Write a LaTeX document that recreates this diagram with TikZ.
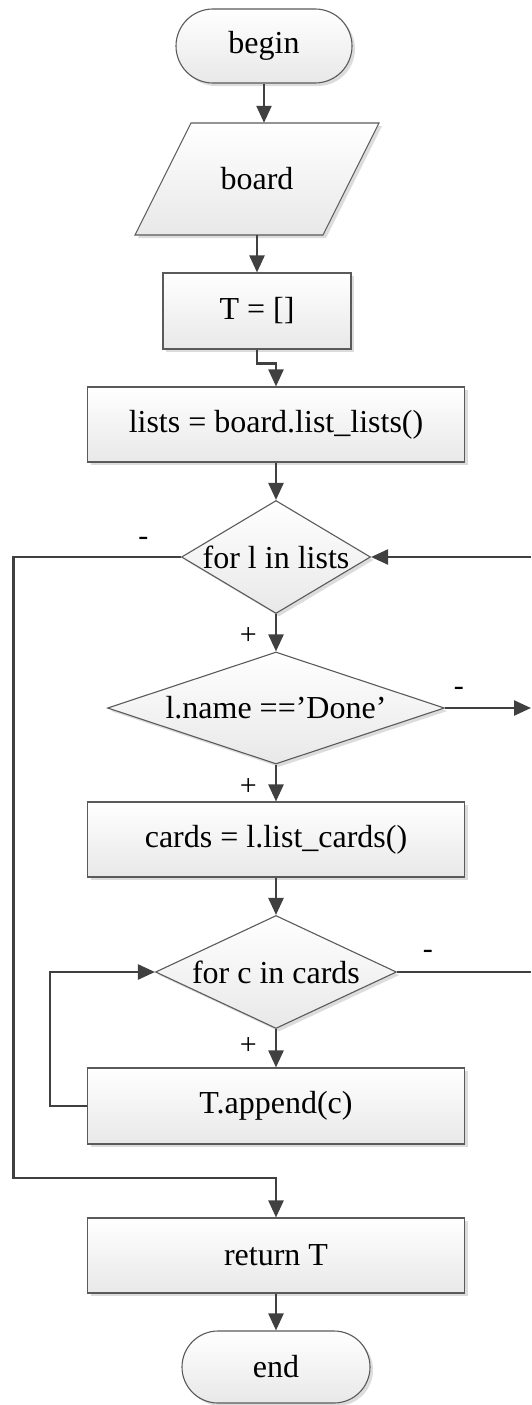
\documentclass[tikz,border=0pt]{standalone}
\usepackage{fontspec}
\setmainfont{Liberation Serif}
\usetikzlibrary{shapes.geometric,shapes.misc,arrows.meta,shadows}
\definecolor{conncol}{HTML}{404040}
\definecolor{edgecol}{HTML}{5A5A5A}
\tikzset{
  base/.style={draw=edgecol, line width=1.1pt, top color=white, bottom color=black!9,
    drop shadow={shadow xshift=3pt, shadow yshift=-3pt, fill=black!30, opacity=0.45},
    font=\fontsize{32pt}{38pt}\selectfont, inner sep=0pt},
  term/.style={base, rounded rectangle},
  proc/.style={base, rectangle, minimum height=75pt},
  decision/.style={base, diamond},
  plain/.style={inner sep=0pt, font=\fontsize{32pt}{38pt}\selectfont},
  conn/.style={draw=conncol, line width=2.4pt, -{Triangle[length=17pt,width=15pt]}},
  wire/.style={draw=conncol, line width=2.4pt},
  sign/.style={font=\fontsize{30pt}{36pt}\selectfont, inner sep=0pt}
}
\begin{document}
\begin{tikzpicture}[x=1pt,y=-1pt]
\useasboundingbox (0,0) rectangle (531,1405);
% shapes
\node[term, minimum width=176pt, minimum height=74pt] (begin) at (264,46) {begin};
\path[base] (135,235) -- (191,123) -- (379,123) -- (323,235) -- cycle;
\node[plain, minimum width=188pt, minimum height=112pt] (board) at (257,179) {board};
\node[proc, minimum width=188pt, minimum height=76pt] (T) at (257,311) {T = []};
\node[proc, minimum width=377pt] (lists) at (276,424.5) {lists = board.list\_lists()};
\node[decision, minimum width=189pt, minimum height=113pt] (d1) at (276,557) {\makebox[0pt]{for l in lists}};
\node[decision, minimum width=337pt, minimum height=112pt] (d2) at (276,708) {\makebox[0pt]{l.name =='Done'}};
\node[proc, minimum width=377pt] (cards) at (276,839.5) {cards = l.list\_cards()};
\node[decision, minimum width=241pt, minimum height=113pt] (d3) at (276,972) {\makebox[0pt]{for c in cards}};
\node[proc, minimum width=377pt, minimum height=76pt] (app) at (276,1106) {T.append(c)};
\node[proc, minimum width=377pt] (ret) at (276,1255.5) {return T};
\node[term, minimum width=188pt, minimum height=72pt] (end) at (276,1367) {end};
% free ends
\coordinate (r1) at (531,557);
\coordinate (r2) at (531,708);
\coordinate (r3) at (531,972);
\coordinate (lp) at (50,1106);
\coordinate (bl) at (13.5,1178);
% connectors
\draw[conn] (begin.south) -- (begin.south |- board.north);
\draw[conn] (board.south) -- (T.north);
\draw[conn] (T.south) -- ++(0,14) -| (lists.north);
\draw[conn] (lists.south) -- (d1.north);
\draw[conn] (d1.south) -- node[sign, pos=0.6, left=18pt]{+} (d2.north);
\draw[conn] (d2.east) -- node[sign, pos=0.16, above=11pt]{-} (r2);
\draw[conn] (d2.south) -- node[sign, pos=0.6, left=18pt]{+} (cards.north);
\draw[conn] (cards.south) -- (d3.north);
\draw[wire] (d3.east) -- node[sign, pos=0.23, above=12pt]{-} (r3);
\draw[conn] (d3.south) -- node[sign, pos=0.44, left=18pt]{+} (app.north);
\draw[conn] (app.west) -- (lp) |- (d3.west);
\draw[conn] (d1.west) -- node[sign, pos=0.225, above=10pt]{-} (d1.west -| bl) -- (bl) -| (ret.north);
\draw[conn] (r1) -- (d1.east);
\draw[conn] (ret.south) -- (end.north);
\end{tikzpicture}
\end{document}
